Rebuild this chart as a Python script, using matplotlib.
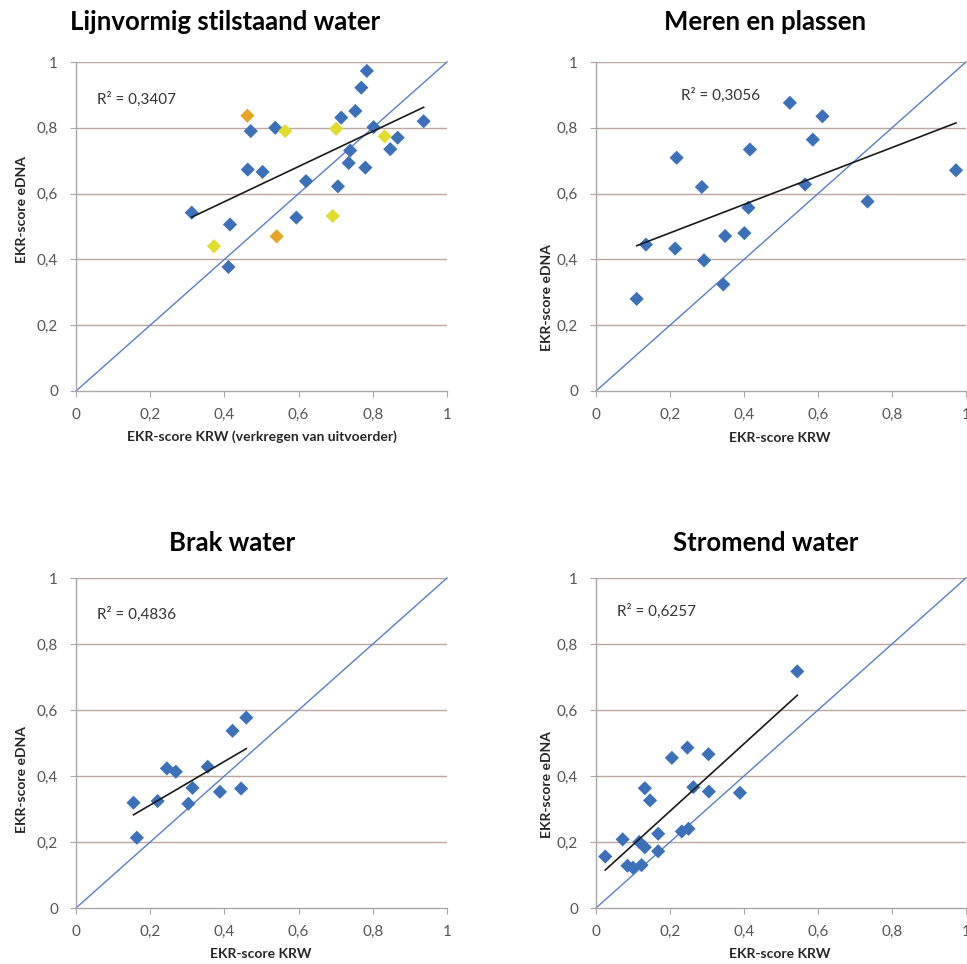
import matplotlib
matplotlib.use('Agg')
import matplotlib.pyplot as plt
import numpy as np

plt.rcParams['font.family'] = ['Lato', 'DejaVu Sans']

# ---------------- data ----------------
titles = ['Lijnvormig stilstaand water', 'Meren en plassen', 'Brak water', 'Stromend water']
xlabels = ['EKR-score KRW (verkregen van uitvoerder)', 'EKR-score KRW', 'EKR-score KRW', 'EKR-score KRW']
ylabel = 'EKR-score eDNA'
r2_labels = ['R² = 0,3407', 'R² = 0,3056', 'R² = 0,4836', 'R² = 0,6257']
ticks = [0, 0.2, 0.4, 0.6, 0.8, 1.0]
tick_labels = ['0', '0,2', '0,4', '0,6', '0,8', '1']

# Lijnvormig stilstaand water
lijn_blue_x = [0.312, 0.415, 0.411, 0.463, 0.471, 0.503, 0.537, 0.594, 0.620, 0.706,
               0.715, 0.739, 0.735, 0.753, 0.769, 0.784, 0.780, 0.802, 0.847, 0.867, 0.937]
lijn_blue_y = [0.542, 0.506, 0.377, 0.673, 0.790, 0.666, 0.800, 0.527, 0.638, 0.622,
               0.831, 0.731, 0.693, 0.851, 0.922, 0.973, 0.679, 0.802, 0.735, 0.770, 0.820]
lijn_orange_x = [0.462, 0.541]
lijn_orange_y = [0.837, 0.470]
lijn_yellow_x = [0.372, 0.564, 0.701, 0.692, 0.832]
lijn_yellow_y = [0.440, 0.790, 0.797, 0.532, 0.774]

# Meren en plassen
meren_x = [0.110, 0.135, 0.218, 0.214, 0.286, 0.292, 0.344, 0.349, 0.401, 0.412,
           0.416, 0.524, 0.565, 0.586, 0.612, 0.734, 0.973]
meren_y = [0.280, 0.445, 0.709, 0.433, 0.620, 0.397, 0.324, 0.471, 0.480, 0.557,
           0.734, 0.876, 0.628, 0.764, 0.835, 0.576, 0.671]

# Brak water
brak_x = [0.155, 0.164, 0.220, 0.245, 0.269, 0.303, 0.314, 0.355, 0.388, 0.422, 0.445, 0.459]
brak_y = [0.319, 0.213, 0.324, 0.423, 0.413, 0.316, 0.364, 0.428, 0.352, 0.537, 0.362, 0.577]

# Stromend water
strom_x = [0.025, 0.072, 0.085, 0.100, 0.117, 0.123, 0.132, 0.132, 0.146, 0.168,
           0.168, 0.205, 0.232, 0.247, 0.250, 0.263, 0.304, 0.305, 0.389, 0.544]
strom_y = [0.156, 0.208, 0.128, 0.122, 0.200, 0.130, 0.184, 0.363, 0.326, 0.172,
           0.225, 0.455, 0.232, 0.486, 0.240, 0.366, 0.466, 0.353, 0.349, 0.717]

# ---------------- styling ----------------
BLUE = '#3C71BA'
ORANGE = '#E6A524'
YELLOW = '#E2DC2C'
GRID = '#BBA79F'
SPINE = '#A8A8A8'
DIAG = '#5B7DC8'
TICKC = '#555555'

W, H = 967, 964
fig = plt.figure(figsize=(W / 100, H / 100), dpi=100)
fig.patch.set_facecolor('white')

# axes boxes in pixels: (left, top, right, bottom)
boxes = [(76, 62, 447, 391), (596, 62, 966, 391), (76, 578, 447, 908), (596, 578, 966, 908)]
title_pos = [(225, 22), (765, 22), (232, 543), (766, 543)]
ylabel_pos = [(22, 210), (547, 298), (22, 780), (547, 785)]
xlabel_pos = [(262, 437), (780, 438), (261, 954), (780, 954)]
r2_pos = [(0.056, 0.885), (0.229, 0.899), (0.056, 0.889), (0.056, 0.899)]

series = [
    [(lijn_blue_x, lijn_blue_y, BLUE), (lijn_orange_x, lijn_orange_y, ORANGE),
     (lijn_yellow_x, lijn_yellow_y, YELLOW)],
    [(meren_x, meren_y, BLUE)],
    [(brak_x, brak_y, BLUE)],
    [(strom_x, strom_y, BLUE)],
]
fit_sets = [(lijn_blue_x, lijn_blue_y), (meren_x, meren_y), (brak_x, brak_y), (strom_x, strom_y)]

for i, (l, t, r, b) in enumerate(boxes):
    ax = fig.add_axes([l / W, 1 - b / H, (r - l) / W, (b - t) / H])
    ax.set_xlim(0, 1)
    ax.set_ylim(0, 1)
    ax.set_xticks(ticks)
    ax.set_yticks(ticks)
    ax.set_xticklabels(tick_labels)
    ax.set_yticklabels(tick_labels)
    ax.tick_params(axis='both', labelsize=11, colors=TICKC, length=4, width=0.8,
                   direction='out', color=SPINE)
    ax.tick_params(axis='x', pad=8)
    ax.tick_params(axis='y', pad=9)
    for s in ['top', 'right']:
        ax.spines[s].set_visible(False)
    for s in ['left', 'bottom']:
        ax.spines[s].set_color(SPINE)
        ax.spines[s].set_linewidth(1.0)
    for yv in ticks[1:]:
        ax.axhline(yv, color=GRID, lw=1.0, zorder=0)

    # 1:1 line
    ax.plot([0, 1], [0, 1], color=DIAG, lw=1.0, zorder=2, clip_on=False)

    for xs, ys, c in series[i]:
        ax.scatter(xs, ys, marker='D', s=52, color=c, edgecolors='none', zorder=3, clip_on=False)

    fx, fy = fit_sets[i]
    fx = np.asarray(fx)
    fy = np.asarray(fy)
    k, c0 = np.polyfit(fx, fy, 1)
    xx = np.array([fx.min(), fx.max()])
    ax.plot(xx, k * xx + c0, color='#1a1a1a', lw=1.2, zorder=4)

    ax.text(r2_pos[i][0], r2_pos[i][1], r2_labels[i], fontsize=11, color='#333333',
            va='center', ha='left', transform=ax.transData)

    tx, ty = title_pos[i]
    fig.text(tx / W, 1 - ty / H, titles[i], fontsize=18.5, fontweight='bold',
             ha='center', va='center', color='black')
    yx, yy = ylabel_pos[i]
    fig.text(yx / W, 1 - yy / H, ylabel, fontsize=10, fontweight='bold', rotation=90,
             ha='center', va='center', color='#262626')
    xx_, xy_ = xlabel_pos[i]
    fig.text(xx_ / W, 1 - xy_ / H, xlabels[i], fontsize=10, fontweight='bold',
             ha='center', va='center', color='#262626')

fig.savefig('out.png', dpi=100, facecolor='white')
